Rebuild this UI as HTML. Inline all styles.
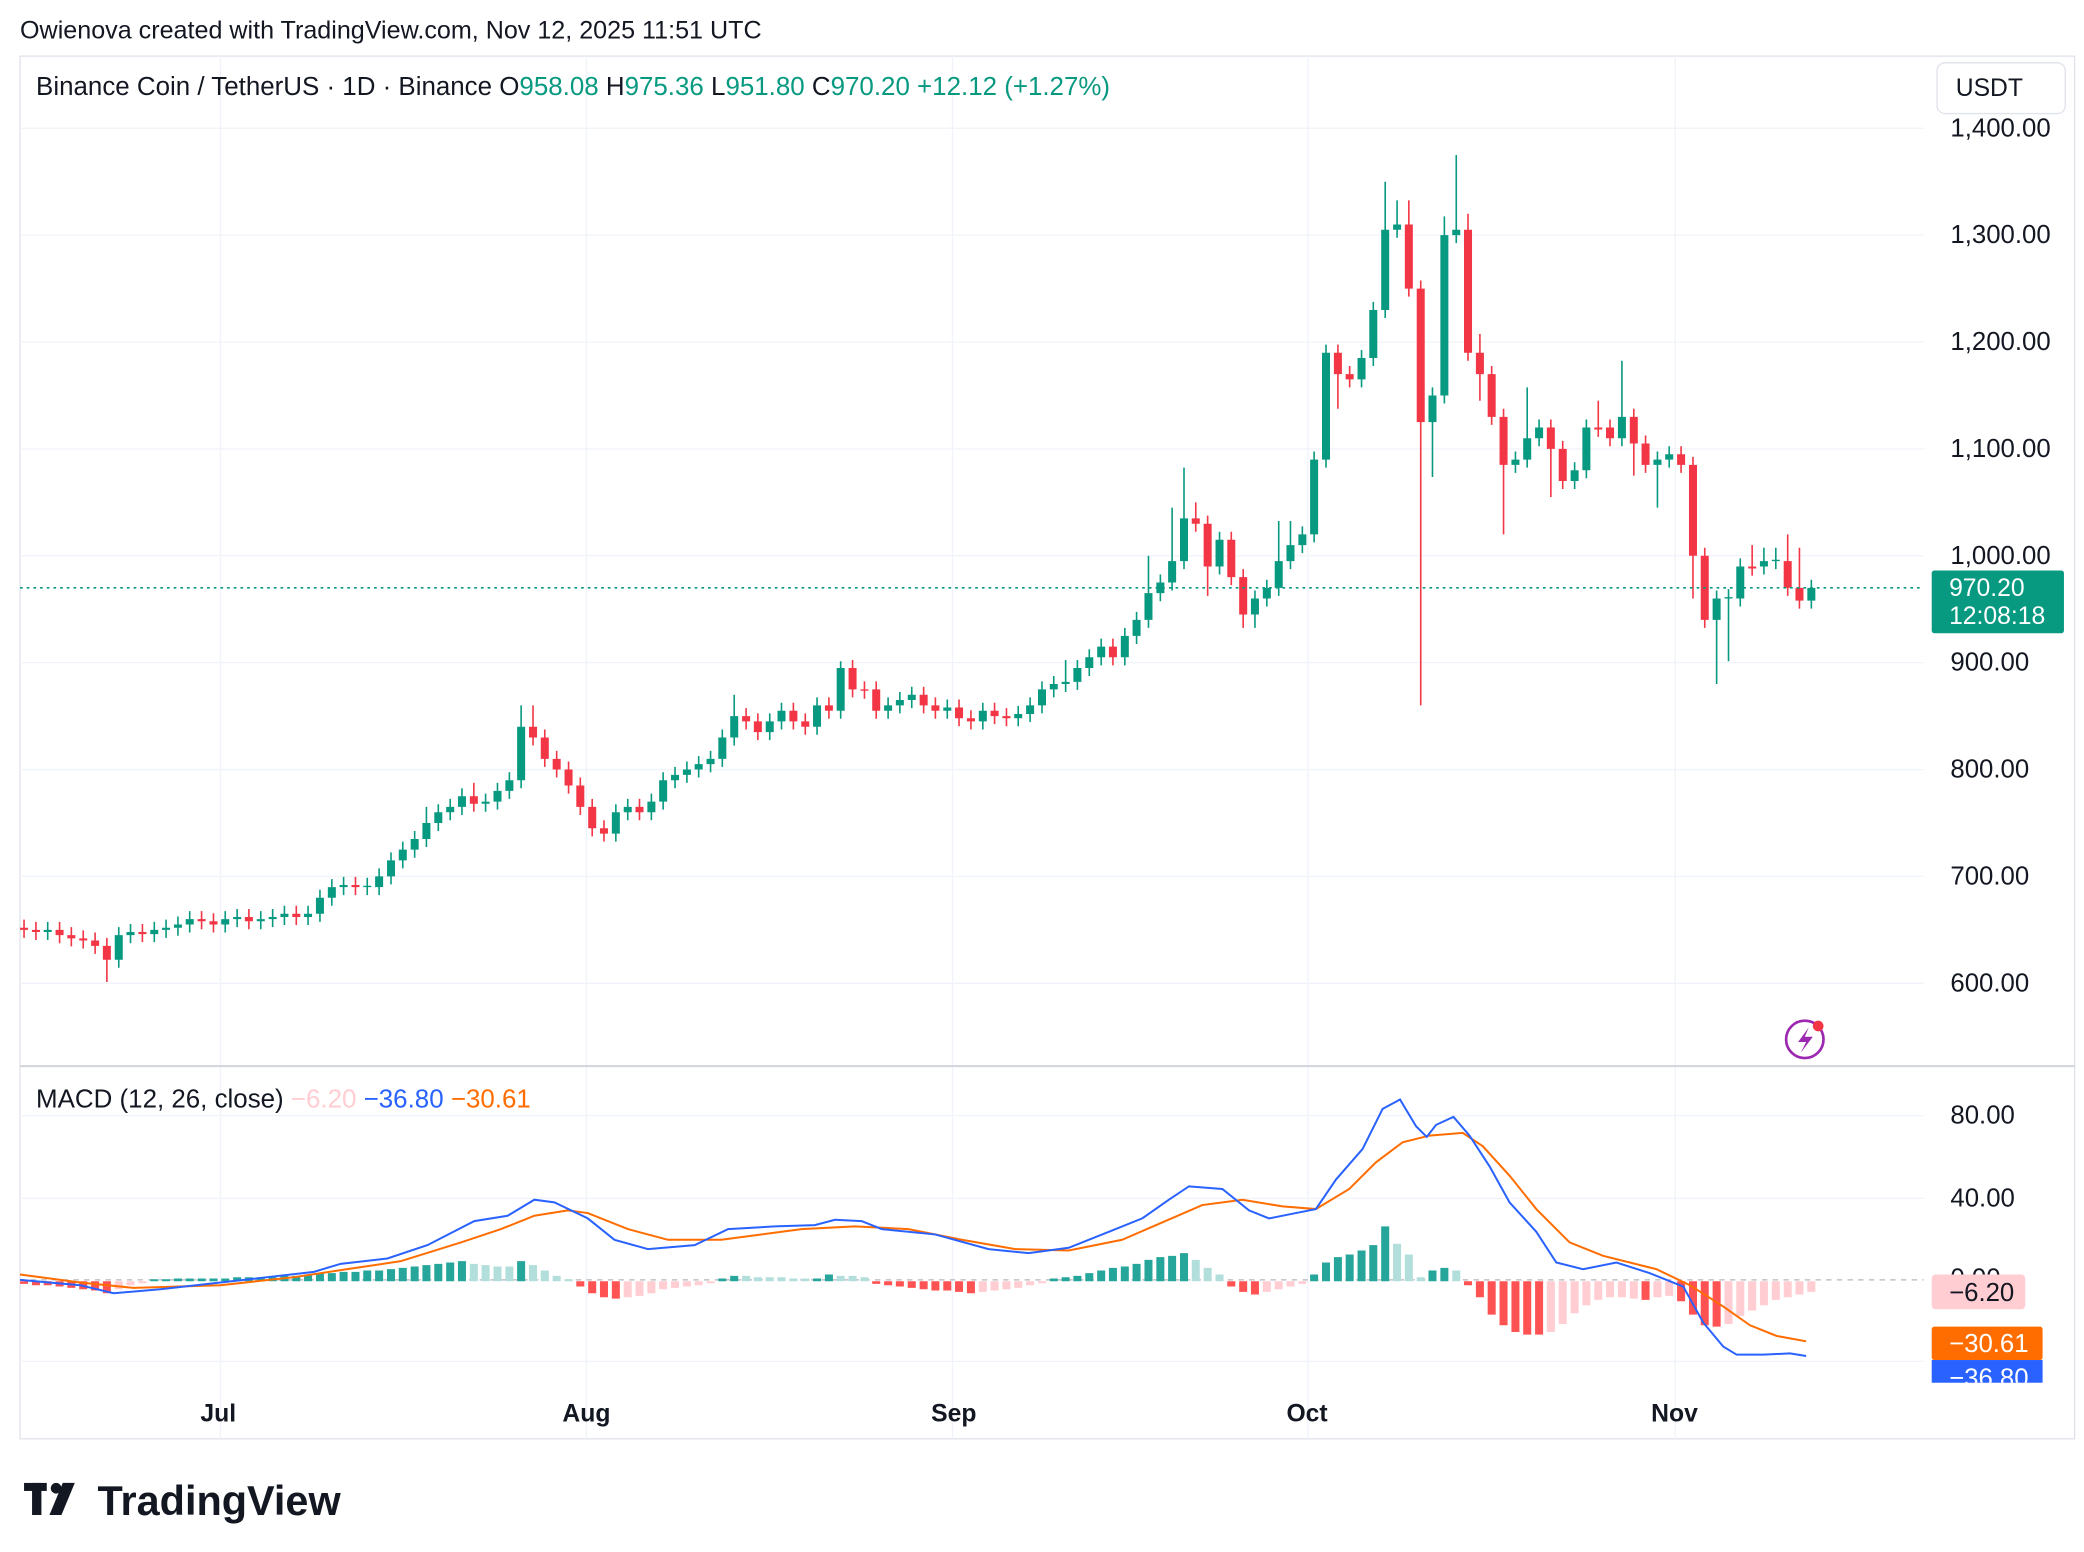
<!DOCTYPE html>
<html><head><meta charset="utf-8"><style>
html,body{margin:0;padding:0;background:#fff;width:2084px;height:1552px;overflow:hidden}
svg{display:block}
text{font-family:"Liberation Sans",sans-serif}
</style></head><body>
<svg width="2084" height="1552" viewBox="0 0 1560 1161.7" preserveAspectRatio="none" xmlns="http://www.w3.org/2000/svg">
<rect width="1560" height="1162" fill="#fff"/>
<text x="15" y="29" font-size="18.8" fill="#131722">Owienova created with TradingView.com, Nov 12, 2025 11:51 UTC</text>
<rect x="15" y="42" width="1538" height="1035" fill="none" stroke="#e0e3eb" stroke-width="1"/>
<g stroke="#f0f3fa" stroke-width="1">
<path d="M165 42V1077M439 42V1077M713 42V1077M979 42V1077M1254 42V1077"/>
<path d="M15 96H1440M15 176H1440M15 256H1440M15 336H1440M15 416H1440M15 496H1440M15 576H1440M15 656H1440M15 736H1440M15 835H1440M15 897H1440M15 1019H1440"/>
</g>
<line x1="15" y1="798" x2="1553" y2="798" stroke="#d1d4dc" stroke-width="1.5"/>

<g stroke="#089981" fill="none">
<path stroke-width="1.2" d="M35.7 690V703.6M88.9 694V724.4M97.7 691.6V706M115.5 690V705.2M124.3 688.4V702M133.2 686V700.4M142 682V698M168.6 682V698M177.5 680.4V694M195.2 682V695.6M204.1 680.4V694M212.9 678V692.4M230.6 678V692.4M239.5 666V690M248.4 658V678M257.2 656.4V670M274.9 657V670M283.8 650V670M292.7 638V662M301.5 630V650M310.4 622V642M319.2 604V634M328.1 602V622M337 598V614M345.8 590V610M363.5 594V607.6M372.4 586V606M381.3 578V598M390.1 528V590M461 602V630M469.9 598V614M487.6 594V614M496.4 578V606M505.3 574V590M514.2 570V586M523 566V582M531.9 562V578M540.7 546V574M549.6 520V558M576.2 534V554M585 526V546M611.6 522V550M629.3 495V538M664.8 522V538M673.6 518V534M682.5 514V530M709.1 523.6V538M735.7 526V546M762.2 528.4V543.6M771.1 522V540.4M780 510V534M788.8 506V522M797.7 494V518M806.5 494V516.4M815.4 486V506M824.3 478V498M842 470V498M850.8 458V482M859.7 416V470M868.6 430V450M877.4 380V442M886.3 350V426M912.9 398V430M939.4 442V470M948.3 434V454M957.2 390V446M966 390V426M974.9 394V414M983.7 338V406M992.6 258V350M1019.2 262V290M1028 226V274M1036.9 136V238M1045.8 150V178M1072.3 290V357M1081.2 162V302M1090.1 116V182M1134.4 338V354M1143.2 290V350M1152.1 314V334M1178.7 346V366M1187.5 314V358M1214.1 270V334M1240.7 338V380M1249.5 334V350M1285 442V512M1293.9 441V495M1302.7 418V454M1320.4 410V430M1329.3 410V426M1355.9 434V455.6"/>
<path stroke-width="6" d="M35.7 697.6V696M88.9 718.4V700M97.7 700V697.6M115.5 699.2V696M124.3 696V694.4M133.2 694.4V692M142 692V688M168.6 692V688M177.5 688V686.4M195.2 689.6V688M204.1 688V686.4M212.9 686.4V684M230.6 686.4V684M239.5 684V672M248.4 672V664M257.2 664V662.4M274.9 664V663M283.8 664V656M292.7 656V644M301.5 644V636M310.4 636V628M319.2 628V616M328.1 616V608M337 608V604M345.8 604V596M363.5 601.6V600M372.4 600V592M381.3 592V584M390.1 584V544M461 624V608M469.9 608V604M487.6 608V600M496.4 600V584M505.3 584V580M514.2 580V576M523 576V572M531.9 572V568M540.7 568V552M549.6 552V536M576.2 548V540M585 540V532M611.6 544V528M629.3 532V500M664.8 532V528M673.6 528V524M682.5 524V520M709.1 532V529.6M735.7 540V532M762.2 537.6V534.4M771.1 534.4V528M780 528V516M788.8 516V512M797.7 512V510.4M806.5 510.4V500M815.4 500V492M824.3 492V484M842 492V476M850.8 476V464M859.7 464V444M868.6 444V436M877.4 436V420M886.3 420V388M912.9 424V404M939.4 460V448M948.3 448V440M957.2 440V420M966 420V408M974.9 408V400M983.7 400V344M992.6 344V264M1019.2 284V268M1028 268V232M1036.9 232V172M1045.8 172V168M1072.3 316V296M1081.2 296V176M1090.1 176V172M1134.4 348V344M1143.2 344V328M1152.1 328V320M1178.7 360V352M1187.5 352V320M1214.1 328V312M1240.7 348V344M1249.5 344V340M1285 464V448M1293.9 448V447M1302.7 448V424M1320.4 424V420M1329.3 420V419M1355.9 449.6V440"/>
</g>
<g stroke="#f23645" fill="none">
<path stroke-width="1.2" d="M18 688.4V702M26.9 690V703.6M44.6 690V706M53.4 694V708.4M62.3 696.4V710M71.2 698V714M80 702V735M106.6 691.6V705.2M150.9 682V695.6M159.8 683.6V698M186.3 680.4V695.6M221.8 678V692.4M266.1 656.4V670M354.7 586V607.6M399 528V558M407.8 546V574M416.7 562V582M425.6 570V594M434.4 582V610M443.3 598V626M452.1 614V630M478.7 598V614M558.5 530V546M567.3 534V554M593.9 526V546M602.8 534V550M620.5 522V538M638.2 494V522M647.1 510V523M655.9 510V538M691.4 514V534M700.2 522V538M717.9 523.6V543.6M726.8 531.6V546M744.5 526V542M753.4 530V543.6M833.1 478V498M895.1 376V398M904 386V446M921.7 398V438M930.6 426V470M1001.5 258V306M1010.3 274V290M1054.6 150V222M1063.5 210V528M1098.9 160V270M1107.8 250V300M1116.6 274V318M1125.5 306V400M1160.9 314V372M1169.8 330V366M1196.4 300V327M1205.2 314V334M1223 306V356M1231.8 326V354M1258.4 334V354M1267.3 342V448M1276.1 410V470M1311.6 408V431M1338.2 400V446M1347 410V455.6"/>
<path stroke-width="6" d="M18 694.4V696M26.9 696V697.6M44.6 696V700M53.4 700V702.4M62.3 702.4V704M71.2 704V708M80 708V718.4M106.6 697.6V699.2M150.9 688V689.6M159.8 689.6V692M186.3 686.4V689.6M221.8 684V686.4M266.1 662.4V664M354.7 596V601.6M399 544V552M407.8 552V568M416.7 568V576M425.6 576V588M434.4 588V604M443.3 604V620M452.1 620V624M478.7 604V608M558.5 536V540M567.3 540V548M593.9 532V540M602.8 540V544M620.5 528V532M638.2 500V516M647.1 516V517M655.9 516V532M691.4 520V528M700.2 528V532M717.9 529.6V537.6M726.8 537.6V540M744.5 532V536M753.4 536V537.6M833.1 484V492M895.1 388V392M904 392V424M921.7 404V432M930.6 432V460M1001.5 264V280M1010.3 280V284M1054.6 168V216M1063.5 216V316M1098.9 172V264M1107.8 264V280M1116.6 280V312M1125.5 312V348M1160.9 320V336M1169.8 336V360M1196.4 320V321.5M1205.2 320V328M1223 312V332M1231.8 332V348M1258.4 340V348M1267.3 348V416M1276.1 416V464M1311.6 424V425.5M1338.2 420V440M1347 440V449.6"/>
</g>

<line x1="15" y1="440" x2="1440" y2="440" stroke="#089981" stroke-dasharray="2,3" stroke-width="1.2"/>
<text x="27" y="71" font-size="19.4" fill="#131722">Binance Coin / TetherUS · 1D · Binance <tspan>O</tspan><tspan fill="#089981">958.08</tspan> <tspan>H</tspan><tspan fill="#089981">975.36</tspan> <tspan>L</tspan><tspan fill="#089981">951.80</tspan> <tspan>C</tspan><tspan fill="#089981">970.20 +12.12 (+1.27%)</tspan></text>
<rect x="1450" y="47" width="96" height="38" rx="6" fill="#fff" stroke="#e0e3eb"/>
<text x="1464" y="72" font-size="18.5" fill="#131722">USDT</text>
<g font-size="19.3" fill="#131722">
<text x="1460" y="102">1,400.00</text><text x="1460" y="182">1,300.00</text><text x="1460" y="262">1,200.00</text><text x="1460" y="342">1,100.00</text><text x="1460" y="422">1,000.00</text><text x="1460" y="502">900.00</text><text x="1460" y="582">800.00</text><text x="1460" y="662">700.00</text><text x="1460" y="742">600.00</text>
</g>
<rect x="1446" y="427" width="99" height="47" rx="2" fill="#089981"/>
<text x="1459" y="446" font-size="18.5" fill="#fff">970.20</text>
<text x="1459" y="467" font-size="18.5" fill="#fff">12:08:18</text>

<line x1="15" y1="958" x2="1440" y2="958" stroke="#b2b5be" stroke-dasharray="4,4"/>
<g fill="none" stroke-width="6">
<path stroke="#ff5252" d="M18 959V961M26.9 959V962M35.7 959V962M44.6 959V963M53.4 959V964M62.3 959V965M71.2 959V966M80 959V968M434.4 959V963M443.3 959V968M452.1 959V971M461 959V972M655.9 959V961M664.8 959V962M673.6 959V963M682.5 959V964M691.4 959V965M700.2 959V966M709.1 959V966M717.9 959V967M726.8 959V968M921.7 959V963M930.6 959V967M939.4 959V969M1098.9 959V962M1107.8 959V971M1116.6 959V984M1125.5 959V992M1134.4 959V997M1143.2 959V999M1152.1 959V999M1231.8 959V973M1258.4 959V974M1267.3 959V984M1276.1 959V992M1285 959V993"/>
<path stroke="#ffcdd2" d="M88.9 959V965M97.7 959V962M106.6 959V960.5M469.9 959V971M478.7 959V970M487.6 959V968M496.4 959V965M505.3 959V964M514.2 959V963M523 959V962M531.9 959V960.5M735.7 959V967M744.5 959V966M753.4 959V965M762.2 959V964M771.1 959V962M780 959V960.5M948.3 959V967M957.2 959V965M966 959V963M974.9 959V961M1160.9 959V997M1169.8 959V991M1178.7 959V983M1187.5 959V977M1196.4 959V973M1205.2 959V971M1214.1 959V971M1223 959V972M1240.7 959V971M1249.5 959V970M1293.9 959V991M1302.7 959V985M1311.6 959V981M1320.4 959V977M1329.3 959V973M1338.2 959V971M1347 959V969M1355.9 959V967"/>
<path stroke="#26a69a" d="M115.5 959V957.5M124.3 959V957.5M133.2 959V957M142 959V957M150.9 959V957M159.8 959V957M168.6 959V957M177.5 959V956M186.3 959V956M195.2 959V956M204.1 959V956M212.9 959V955M221.8 959V955M230.6 959V954M239.5 959V953M248.4 959V953M257.2 959V952M266.1 959V952M274.9 959V951M283.8 959V951M292.7 959V950M301.5 959V949M310.4 959V948M319.2 959V947M328.1 959V946M337 959V945M345.8 959V944M390.1 959V944M540.7 959V957M549.6 959V955M611.6 959V957M620.5 959V954M788.8 959V957M797.7 959V956M806.5 959V955M815.4 959V953M824.3 959V951M833.1 959V949M842 959V948M850.8 959V946M859.7 959V943M868.6 959V941M877.4 959V940M886.3 959V938M983.7 959V954M992.6 959V945M1001.5 959V941M1010.3 959V939M1019.2 959V936M1028 959V932M1036.9 959V918M1072.3 959V951M1081.2 959V949"/>
<path stroke="#b2dfdb" d="M354.7 959V946M363.5 959V947M372.4 959V948M381.3 959V948M399 959V947M407.8 959V951M416.7 959V955M425.6 959V957.5M558.5 959V955M567.3 959V956M576.2 959V956M585 959V956M593.9 959V957M602.8 959V957M629.3 959V955M638.2 959V955M647.1 959V956M895.1 959V943M904 959V949M912.9 959V954M1045.8 959V931M1054.6 959V939M1063.5 959V956M1090.1 959V951"/>
</g>
<polyline fill="none" stroke="#ff6d00" stroke-width="1.5" points="15,954 60,960 100,964 165,962 220,956 260,950 300,944 345,930 375,920 400,910 425,906 440,908 470,920 500,928 540,928 600,920 640,918 680,920 720,928 760,935 800,936 840,928 870,915 900,902 930,898 960,903 985,905 1010,890 1030,870 1050,855 1070,850 1095,848 1110,858 1130,880 1150,905 1175,930 1200,940 1240,950 1265,962 1290,978 1310,992 1330,1000 1352,1004"/>
<polyline fill="none" stroke="#2962ff" stroke-width="1.5" points="15,958 60,962 85,968 120,965 165,960 200,956 235,952 255,946 290,942 320,932 355,914 380,910 400,898 415,900 440,912 460,928 485,935 520,932 545,920 580,918 610,917 625,913 645,914 660,920 700,924 740,935 770,938 800,934 830,922 855,912 875,898 890,888 915,890 935,906 950,912 970,908 985,905 1000,883 1020,860 1035,830 1048,823 1060,843 1068,851 1075,842 1088,836 1100,850 1115,873 1130,900 1150,922 1165,945 1185,950 1210,945 1235,953 1260,963 1275,990 1290,1008 1300,1014 1320,1014 1340,1013 1352,1015"/>

<text x="27" y="829" font-size="19.4" fill="#131722">MACD (12, 26, close) <tspan fill="#ffcdd2">−6.20</tspan> <tspan fill="#2962ff">−36.80</tspan> <tspan fill="#ff6d00">−30.61</tspan></text>
<text x="1460" y="841" font-size="19.3" fill="#131722">80.00</text>
<text x="1460" y="903" font-size="19.3" fill="#131722">40.00</text>
<text x="1460" y="963" font-size="19.3" fill="#131722">0.00</text>
<rect x="1446" y="954" width="70" height="26" rx="3" fill="#ffcdd2"/>
<text x="1459" y="974" font-size="19.3" fill="#131722">−6.20</text>
<rect x="1446" y="993" width="83" height="25" rx="2" fill="#ff6d00"/>
<text x="1459" y="1012" font-size="19.3" fill="#fff">−30.61</text>
<rect x="1446" y="1018" width="83" height="17" fill="#2962ff"/>
<svg x="1446" y="1018" width="83" height="17"><text x="13" y="20" font-size="19.3" fill="#fff">−36.80</text></svg>
<g font-size="18.5" fill="#131722" font-weight="bold">
<text x="150" y="1064">Jul</text><text x="421" y="1064">Aug</text><text x="697" y="1064">Sep</text><text x="963" y="1064">Oct</text><text x="1236" y="1064">Nov</text></g>
<circle cx="1351" cy="778" r="14" fill="none" stroke="#9c27b0" stroke-width="2"/>
<path d="M1354 769 L1346 780 L1352 780 L1348 788 L1357 776 L1351 776 Z" fill="#9c27b0"/>
<circle cx="1361" cy="768" r="4" fill="#f23645"/>
<g fill="#131722"><rect x="18" y="1110" width="17" height="6"/><rect x="24" y="1110" width="7" height="24"/><circle cx="42" cy="1114" r="4"/><path d="M47 1110 L56 1110 L46 1134 L37 1134 Z"/></g>
<text x="73" y="1134" font-size="31" font-weight="bold" fill="#131722">TradingView</text>
</svg>
</body></html>
